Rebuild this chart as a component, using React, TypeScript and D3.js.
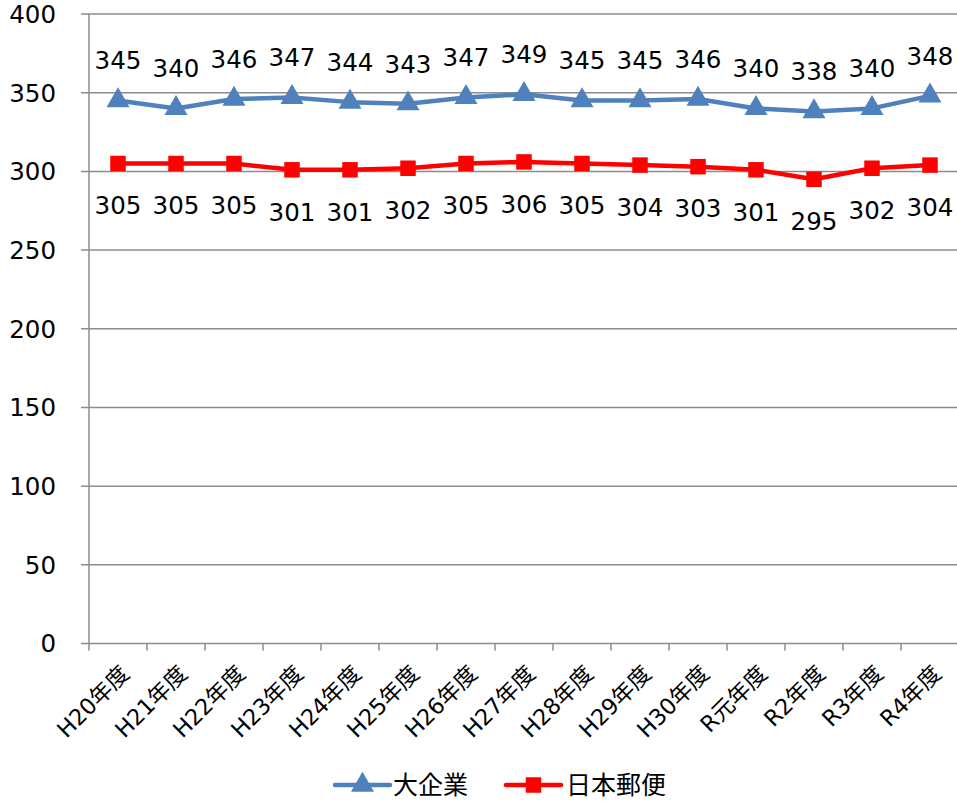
import React from 'react';
import * as d3 from 'd3';

const categories = ['H20年度', 'H21年度', 'H22年度', 'H23年度', 'H24年度', 'H25年度', 'H26年度', 'H27年度', 'H28年度', 'H29年度', 'H30年度', 'R元年度', 'R2年度', 'R3年度', 'R4年度'];
const largeCorp = [345, 340, 346, 347, 344, 343, 347, 349, 345, 345, 346, 340, 338, 340, 348];
const japanPost = [305, 305, 305, 301, 301, 302, 305, 306, 305, 304, 303, 301, 295, 302, 304];
const yTicks = [0, 50, 100, 150, 200, 250, 300, 350, 400];
const seriesNames = ['大企業', '日本郵便'];

const W = 957;
const H = 807;
const FONT = '"DejaVu Sans", "Noto Sans CJK JP", sans-serif';
const BLUE = '#4F81BD';
const RED = '#FF0000';

const App = () => {
  const left = 89;
  const top = 14;
  const bottom = 643.5;

  const x = d3.scaleBand().domain(categories).range([left, left + 58 * categories.length]);
  const y = d3.scaleLinear().domain([0, 400]).range([bottom, top]);
  const cx = (c: string) => (x(c) as number) + x.bandwidth() / 2;

  const line = d3.line<number>().x((d, i) => cx(categories[i])).y(d => y(d));
  const tri = d3.symbol().type(d3.symbolTriangle).size(230)();
  const sq = d3.symbol().type(d3.symbolSquare).size(240)();

  return (
    <svg width={W} height={H} style={{ position: 'absolute', left: 0, top: 0, background: '#fff' }} fontFamily={FONT}>
      {/* grid + y axis */}
      {yTicks.map(t => (
        <g key={t}>
          <line x1={left - 8} x2={W} y1={y(t)} y2={y(t)} stroke="#8c8c8c" strokeWidth={1.5} />
          <text x={56} y={y(t)} dy="0.36em" textAnchor="end" fontSize={24.5} fill="#000">{t}</text>
        </g>
      ))}
      <line x1={left} x2={left} y1={top} y2={bottom} stroke="#8c8c8c" strokeWidth={1.5} />
      {/* x ticks */}
      {categories.map(c => (
        <line key={c} x1={x(c)} x2={x(c)} y1={bottom} y2={bottom + 7} stroke="#8c8c8c" strokeWidth={1.5} />
      ))}
      {categories.map(c => (
        <text key={c} transform={`translate(${cx(c) + 7},${bottom + 26}) rotate(-45)`} textAnchor="end" dy="0.35em" fontSize={22.5} fill="#000">{c}</text>
      ))}

      {/* series lines */}
      <path d={line(largeCorp) || ''} fill="none" stroke={BLUE} strokeWidth={4.5} strokeLinejoin="round" />
      <path d={line(japanPost) || ''} fill="none" stroke={RED} strokeWidth={4.5} strokeLinejoin="round" />
      {largeCorp.map((v, i) => (
        <path key={i} d={tri || ''} transform={`translate(${cx(categories[i])},${y(v)})`} fill={BLUE} />
      ))}
      {japanPost.map((v, i) => (
        <path key={i} d={sq || ''} transform={`translate(${cx(categories[i])},${y(v)})`} fill={RED} />
      ))}

      {/* data labels */}
      {largeCorp.map((v, i) => (
        <text key={i} x={cx(categories[i])} y={y(v) - 40} dy="0.36em" textAnchor="middle" fontSize={24.5} fill="#000">{v}</text>
      ))}
      {japanPost.map((v, i) => (
        <text key={i} x={cx(categories[i])} y={y(v) + 42} dy="0.36em" textAnchor="middle" fontSize={24.5} fill="#000">{v}</text>
      ))}

      {/* legend */}
      <g transform="translate(335,785)">
        <line x1={0} x2={55} y1={0} y2={0} stroke={BLUE} strokeWidth={4.5} strokeLinecap="round" />
        <path d={tri || ''} transform="translate(27.5,0)" fill={BLUE} />
        <text x={58} y={0} dy="0.36em" fontSize={25} fill="#000">{seriesNames[0]}</text>
      </g>
      <g transform="translate(506,785)">
        <line x1={0} x2={55} y1={0} y2={0} stroke={RED} strokeWidth={4.5} strokeLinecap="round" />
        <path d={sq || ''} transform="translate(27.5,0)" fill={RED} />
        <text x={60} y={0} dy="0.36em" fontSize={25} fill="#000">{seriesNames[1]}</text>
      </g>
    </svg>
  );
};

export default App;
